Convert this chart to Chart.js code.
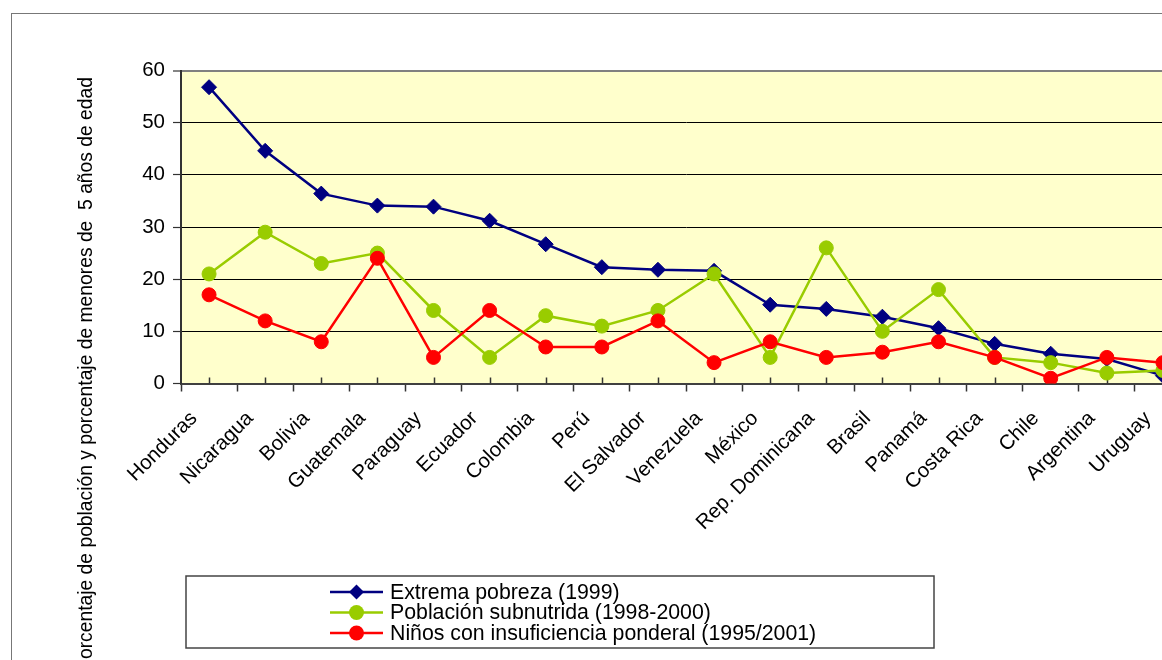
<!DOCTYPE html>
<html>
<head>
<meta charset="utf-8">
<style>
  html, body { margin: 0; padding: 0; background: #fff; overflow: hidden; }
  #wrap { position: absolute; left: 0; top: 0; width: 1230px; height: 660px; }
</style>
<script src="https://cdn.jsdelivr.net/npm/chart.js@4/dist/chart.umd.min.js"></script>
</head>
<body>
<div id="wrap"><canvas id="context" width="1230" height="660"></canvas></div>
<script>
// categories and series
const countries = ['Honduras', 'Nicaragua', 'Bolivia', 'Guatemala', 'Paraguay', 'Ecuador', 'Colombia', 'Perú',
  'El Salvador', 'Venezuela', 'México', 'Rep. Dominicana', 'Brasil', 'Panamá', 'Costa Rica', 'Chile',
  'Argentina', 'Uruguay'];
const extremaPobreza = [56.8, 44.6, 36.4, 34.1, 33.9, 31.2, 26.7, 22.3, 21.8, 21.6, 15.1, 14.3, 12.8, 10.6, 7.6, 5.7, 4.7, 1.5];
const subnutrida = [21, 29, 23, 25, 14, 5, 13, 11, 14, 21, 5, 26, 10, 18, 5, 4, 2, 2.5];
const insuficiencia = [17, 12, 8, 24, 5, 14, 7, 7, 12, 4, 8, 5, 6, 8, 5, 1, 5, 4];
const yTicks = [0, 10, 20, 30, 40, 50, 60];
const seriesLabels = ['Extrema pobreza (1999)', 'Población subnutrida (1998-2000)', 'Niños con insuficiencia ponderal (1995/2001)'];
const yTitle = 'Porcentaje de población y porcentaje de menores de  5 años de edad';

const FONT = '"Liberation Sans", Arial, sans-serif';

/**
 * Turns a value list into {x, y} points on the category index
 */
function toPoints(values) {
  return values.map((v, i) => ({ x: i, y: v }));
}

// background, frame, y title, inner ticks and the boxed legend
const decor = {
  id: 'decor',
  beforeDraw(chart) {
    const { ctx, chartArea: a } = chart;
    ctx.save();
    ctx.strokeStyle = '#777';
    ctx.lineWidth = 1;
    ctx.strokeRect(11.5, 13.5, 2000, 2000);
    ctx.fillStyle = '#FFFFCC';
    ctx.fillRect(a.left, a.top, a.right - a.left, a.bottom - a.top);
    ctx.restore();
  },
  beforeDatasetsDraw(chart) {
    const { ctx, chartArea: a } = chart;
    const xs = chart.scales.x;
    ctx.save();
    ctx.strokeStyle = '#333';
    ctx.lineWidth = 1.5;
    countries.forEach((c, i) => {
      const px = Math.round(xs.getPixelForValue(i)) + 0.5;
      ctx.beginPath();
      ctx.moveTo(px, a.bottom);
      ctx.lineTo(px, a.bottom - 6);
      ctx.stroke();
    });
    ctx.restore();
  },
  afterDraw(chart) {
    const { ctx } = chart;
    ctx.save();
    // y title, its end placed near the top of the frame
    ctx.translate(87, 77);
    ctx.rotate(-Math.PI / 2);
    ctx.fillStyle = '#000';
    ctx.font = '19.3px ' + FONT;
    ctx.textAlign = 'right';
    ctx.textBaseline = 'middle';
    ctx.fillText(yTitle, 0, 0);
    ctx.restore();

    // legend box
    ctx.save();
    ctx.fillStyle = '#fff';
    ctx.fillRect(186, 576, 748, 72);
    ctx.strokeStyle = '#444';
    ctx.lineWidth = 1.5;
    ctx.strokeRect(186, 576, 748, 72);
    ctx.font = '21.3px ' + FONT;
    ctx.textBaseline = 'middle';
    ctx.textAlign = 'left';
    chart.data.datasets.forEach((ds, i) => {
      const y = 592 + i * 20.5;
      ctx.strokeStyle = ds.borderColor;
      ctx.lineWidth = 2.5;
      ctx.beginPath();
      ctx.moveTo(330, y);
      ctx.lineTo(383, y);
      ctx.stroke();
      ctx.fillStyle = ds.borderColor;
      ctx.beginPath();
      if (ds.pointStyle === 'rectRot') {
        const r = 7.5;
        ctx.moveTo(356.5, y - r);
        ctx.lineTo(356.5 + r, y);
        ctx.lineTo(356.5, y + r);
        ctx.lineTo(356.5 - r, y);
        ctx.closePath();
      } else {
        ctx.arc(356.5, y, 7.5, 0, Math.PI * 2);
      }
      ctx.fill();
      ctx.fillStyle = '#000';
      ctx.fillText(ds.label, 390, y + 1);
    });
    ctx.restore();
  }
};

function init() {
  const ctx = document.getElementById('context');

  const data = {
    datasets: [
      {
        label: seriesLabels[0],
        data: toPoints(extremaPobreza),
        borderColor: '#000080',
        backgroundColor: '#000080',
        pointStyle: 'rectRot',
        pointRadius: 7.5,
        borderWidth: 2.5,
        pointBorderWidth: 1,
        order: 3
      },
      {
        label: seriesLabels[1],
        data: toPoints(subnutrida),
        borderColor: '#99CC00',
        backgroundColor: '#99CC00',
        pointStyle: 'circle',
        pointRadius: 7,
        borderWidth: 2.5,
        pointBorderWidth: 1,
        order: 2
      },
      {
        label: seriesLabels[2],
        data: toPoints(insuficiencia),
        borderColor: '#FF0000',
        backgroundColor: '#FF0000',
        pointStyle: 'circle',
        pointRadius: 7,
        borderWidth: 2.5,
        pointBorderWidth: 1,
        order: 1
      }
    ]
  };

  new Chart(ctx, {
    type: 'line',
    data,
    plugins: [decor],
    options: {
      responsive: false,
      animation: false,
      layout: { padding: { left: 0, top: 70.5, right: 39, bottom: 0 } },
      plugins: {
        legend: { display: false },
        tooltip: { enabled: false },
        title: { display: false }
      },
      elements: { line: { tension: 0 } },
      scales: {
        x: {
          type: 'linear',
          min: -0.5,
          max: countries.length - 0.5,
          afterFit: scale => { scale.height = 276.5; },
          afterBuildTicks: scale => {
            const t = [];
            for (let v = -0.5; v <= countries.length - 0.5; v += 0.5) t.push({ value: v });
            scale.ticks = t;
          },
          ticks: {
            autoSkip: false,
            minRotation: 45,
            maxRotation: 45,
            padding: 15,
            labelOffset: -15,
            color: '#000',
            font: { family: FONT, size: 20.5 },
            callback: value => Number.isInteger(value) ? countries[value] : ''
          },
          grid: {
            drawOnChartArea: false,
            tickLength: 8,
            tickWidth: 1.5,
            tickColor: c => Number.isInteger(c.tick.value) ? 'rgba(0,0,0,0)' : '#333'
          },
          border: { color: '#404040', width: 2 }
        },
        y: {
          min: 0,
          max: 60,
          afterFit: scale => { scale.width = 181; },
          afterBuildTicks: scale => { scale.ticks = yTicks.map(v => ({ value: v })); },
          ticks: {
            padding: 8,
            color: '#000',
            font: { family: FONT, size: 20.5 }
          },
          grid: {
            color: c => c.tick.value === 60 ? '#808080' : '#000',
            lineWidth: c => c.tick.value === 60 ? 2 : 1,
            tickLength: 8,
            tickColor: '#333',
            tickWidth: 1.2
          },
          border: { color: '#333', width: 2 }
        }
      }
    }
  });
}

init();
</script>
</body>
</html>
